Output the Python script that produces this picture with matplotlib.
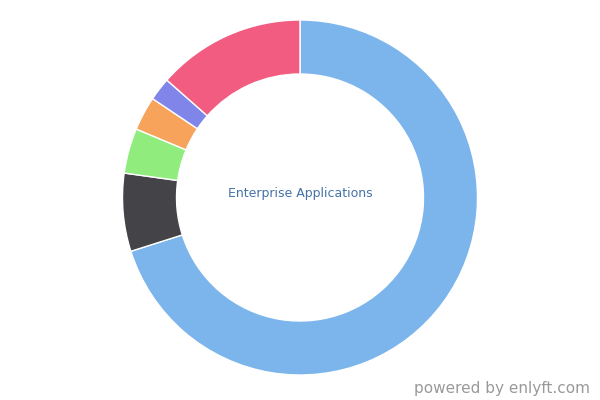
import matplotlib.pyplot as plt

labels = ['Enterprise Applications', 'Other 1', 'Other 2', 'Other 3', 'Other 4', 'Other 5']
shares = [70.1, 7.1, 4.1, 3.1, 2.1, 13.5]
colors = ['#7cb5ec', '#434348', '#90ed7d', '#f7a35c', '#8085e9', '#f15c80']

fig = plt.figure(figsize=(6, 4), dpi=100)
ax = fig.add_axes([0, 0, 1, 1])
ax.set_xlim(0, 600)
ax.set_ylim(0, 400)
ax.set_aspect('equal')
ax.axis('off')

ax.pie(shares, colors=colors, startangle=90, counterclock=False,
       center=(300, 202.5), radius=177.5, frame=True,
       wedgeprops=dict(width=54, edgecolor='white', linewidth=1))
ax.set_xlim(0, 600)
ax.set_ylim(0, 400)
ax.axis('off')

ax.text(300, 206, labels[0], ha='center', va='center', fontsize=9, color='#4572a7')
ax.text(590, 11, 'powered by enlyft.com', ha='right', va='center', fontsize=11, color='#999999')

fig.savefig('out.png', dpi=100)
